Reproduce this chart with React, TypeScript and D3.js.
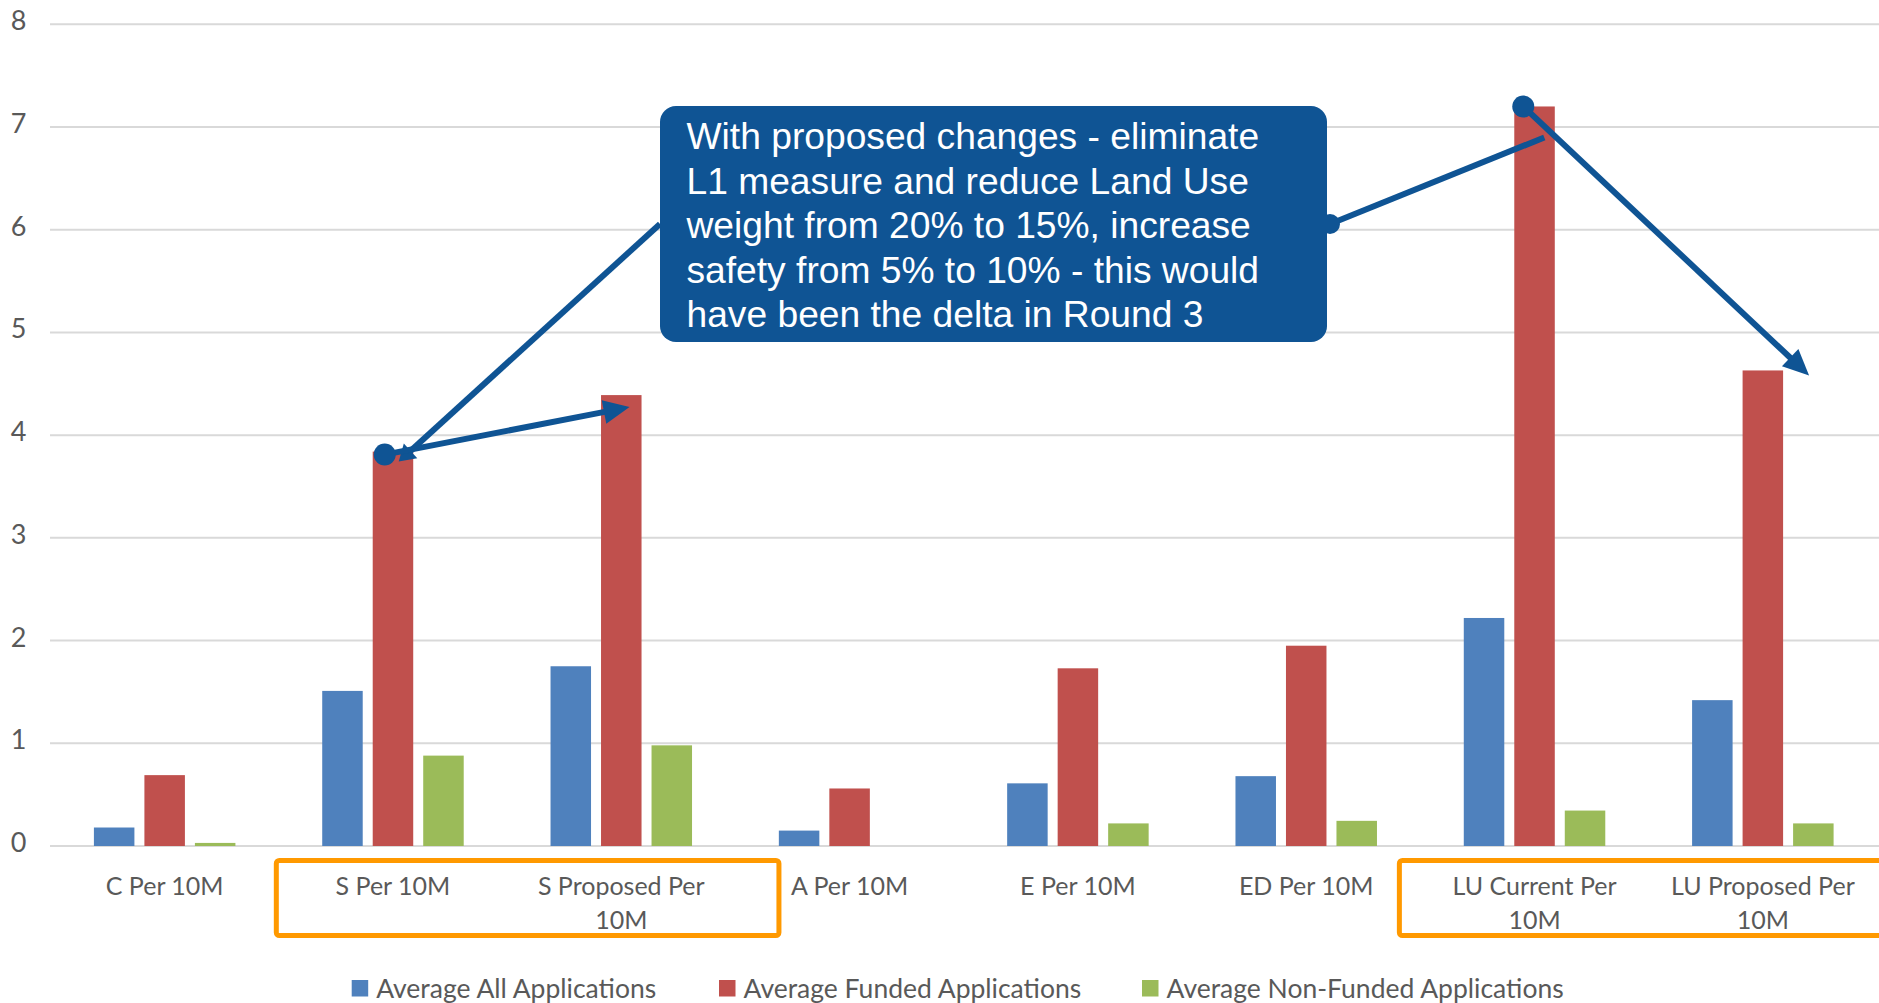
import React from "react";
import * as d3 from "d3";

// Categories along the x axis
const categories = [
  "C Per 10M",
  "S Per 10M",
  "S Proposed Per 10M",
  "A Per 10M",
  "E Per 10M",
  "ED Per 10M",
  "LU Current Per 10M",
  "LU Proposed Per 10M",
];

// Series names (legend order)
const seriesNames = [
  "Average All Applications",
  "Average Funded Applications",
  "Average Non-Funded Applications",
];

// Series values, one per category
const averageAll = [0.18, 1.51, 1.75, 0.15, 0.61, 0.68, 2.22, 1.42];
const averageFunded = [0.69, 3.84, 4.39, 0.56, 1.73, 1.95, 7.2, 4.63];
const averageNonFunded = [0.03, 0.88, 0.98, 0, 0.22, 0.245, 0.345, 0.22];

const yTicks = [0, 1, 2, 3, 4, 5, 6, 7, 8];

const calloutLines = [
  "With proposed changes - eliminate",
  "L1 measure and reduce Land Use",
  "weight from 20% to 15%, increase",
  "safety from 5% to 10% - this would",
  "have been the delta in Round 3",
];

const COLORS = ["#4F81BD", "#C0504D", "#9BBB59"];
const ANNOT = "#0F5494";
const ORANGE = "#FF9900";
const GRID = "#D9D9D9";
const TEXT = "#595959";
const FONT = "Lato, 'Open Sans', sans-serif";

const W = 1879;
const H = 1003;

// split long category names onto two lines, like the chart's wrapped labels
function wrapLabel(name: string): string[] {
  if (name.length <= 12) return [name];
  const i = name.lastIndexOf(" ");
  return [name.slice(0, i), name.slice(i + 1)];
}

// arrow polygon + shortened shaft end
function arrow(x1: number, y1: number, x2: number, y2: number, len: number, half: number) {
  const dx = x2 - x1;
  const dy = y2 - y1;
  const d = Math.hypot(dx, dy);
  const ux = dx / d;
  const uy = dy / d;
  const bx = x2 - ux * len;
  const by = y2 - uy * len;
  const px = -uy;
  const py = ux;
  const pts = [
    [x2, y2],
    [bx + px * half, by + py * half],
    [bx - px * half, by - py * half],
  ]
    .map((p) => p.join(","))
    .join(" ");
  return { pts, sx: bx + ux * 2, sy: by + uy * 2 };
}

export default function App() {
  const series = [averageAll, averageFunded, averageNonFunded];

  const x = d3.scaleBand<string>().domain(categories).range([50.5, 1877]).padding(0);
  const bw = x.bandwidth();
  const xSub = d3
    .scaleBand<number>()
    .domain([0, 1, 2])
    .range([bw / 2 - 70.75, bw / 2 + 70.75])
    .paddingInner(0.198)
    .paddingOuter(0);
  const y = d3.scaleLinear().domain([0, 8]).range([846, 24.3]);

  // bar top-left corners used by the annotation arrows
  const barX = (cat: string, s: number) => (x(cat) as number) + (xSub(s) as number);
  const sCur = { x: barX(categories[1], 1), y: y(averageFunded[1]) };
  const sNew = { x: barX(categories[2], 1), y: y(averageFunded[2]) };
  const luCur = { x: barX(categories[6], 1), y: y(averageFunded[6]) };
  const luNew = { x: barX(categories[7], 1), y: y(averageFunded[7]) };
  const sbw = xSub.bandwidth();

  const box = { x: 660, y: 106, w: 667, h: 236 };

  const dotS = { x: sCur.x + 12, y: sCur.y + 3 };
  const dotLU = { x: luCur.x + 9, y: luCur.y };
  const tipS = { x: sNew.x + sbw - 12, y: sNew.y + 12 };
  const tipLU = { x: luNew.x + sbw + 26, y: luNew.y + 5 };

  const a1 = arrow(dotS.x, dotS.y, tipS.x, tipS.y, 26, 12);
  const a2 = arrow(dotLU.x, dotLU.y, tipLU.x, tipLU.y, 26, 12);
  const connL = { x1: box.x, y1: box.y + 118, x2: dotS.x + 14, y2: dotS.y + 7 };
  const a3 = arrow(connL.x1, connL.y1, connL.x2, connL.y2, 16, 10);
  const connR = { x1: box.x + box.w + 3, y1: box.y + 118, x2: luCur.x + 30, y2: luCur.y + 31 };

  const legendX = [351.7, 719, 1142];

  const orange1 = {
    x0: (x(categories[1]) as number) - 2.5,
    x1: (x(categories[2]) as number) + bw + 43.5,
  };
  const orange2 = {
    x0: (x(categories[6]) as number) - 21,
    x1: W + 20,
  };

  return (
    <svg
      width={W}
      height={H}
      style={{ position: "absolute", left: 0, top: 0, background: "#fff" }}
    >
      {/* gridlines and y tick labels */}
      {yTicks.map((t) => (
        <g key={t}>
          <line x1={50} x2={W} y1={y(t)} y2={y(t)} stroke={GRID} strokeWidth={2} />
          <text
            x={18.5}
            y={y(t) + 6}
            textAnchor="middle"
            fontFamily={FONT}
            fontSize={27}
            fill={TEXT}
          >
            {t}
          </text>
        </g>
      ))}

      {/* bars */}
      {categories.map((cat, i) => (
        <g key={cat} transform={`translate(${x(cat)},0)`}>
          {series.map((vals, s) =>
            vals[i] > 0 ? (
              <rect
                key={s}
                x={xSub(s)}
                y={y(vals[i])}
                width={sbw}
                height={y(0) - y(vals[i])}
                fill={COLORS[s]}
              />
            ) : null
          )}
        </g>
      ))}

      {/* category labels */}
      {categories.map((cat) => {
        const lines = wrapLabel(cat);
        const cx = (x(cat) as number) + bw / 2;
        return (
          <text
            key={cat}
            x={cx}
            textAnchor="middle"
            fontFamily={FONT}
            fontSize={25}
            fill={TEXT}
          >
            {lines.map((l, k) => (
              <tspan key={k} x={cx} y={895 + k * 33.5}>
                {l}
              </tspan>
            ))}
          </text>
        );
      })}

      {/* highlight frames around the changed measures */}
      <rect
        x={orange1.x0}
        y={860.5}
        width={orange1.x1 - orange1.x0}
        height={75}
        rx={3}
        fill="none"
        stroke={ORANGE}
        strokeWidth={5}
      />
      <rect
        x={orange2.x0}
        y={860.5}
        width={orange2.x1 - orange2.x0}
        height={75}
        rx={3}
        fill="none"
        stroke={ORANGE}
        strokeWidth={5}
      />

      {/* legend */}
      {seriesNames.map((name, s) => (
        <g key={name}>
          <rect x={legendX[s]} y={980} width={16.5} height={16.5} fill={COLORS[s]} />
          <text
            x={legendX[s] + 24.5}
            y={997.5}
            fontFamily={FONT}
            fontSize={26.5}
            fill={TEXT}
          >
            {name}
          </text>
        </g>
      ))}

      {/* callout connectors */}
      <line
        x1={connL.x1}
        y1={connL.y1}
        x2={a3.sx}
        y2={a3.sy}
        stroke={ANNOT}
        strokeWidth={6}
      />
      <polygon points={a3.pts} fill={ANNOT} />
      <line
        x1={connR.x1}
        y1={connR.y1}
        x2={connR.x2}
        y2={connR.y2}
        stroke={ANNOT}
        strokeWidth={6}
      />
      <circle cx={connR.x1} cy={connR.y1} r={10} fill={ANNOT} />

      {/* change arrows from current to proposed */}
      <line x1={dotS.x} y1={dotS.y} x2={a1.sx} y2={a1.sy} stroke={ANNOT} strokeWidth={6} />
      <polygon points={a1.pts} fill={ANNOT} />
      <circle cx={dotS.x} cy={dotS.y} r={11} fill={ANNOT} />

      <line x1={dotLU.x} y1={dotLU.y} x2={a2.sx} y2={a2.sy} stroke={ANNOT} strokeWidth={6} />
      <polygon points={a2.pts} fill={ANNOT} />
      <circle cx={dotLU.x} cy={dotLU.y} r={11} fill={ANNOT} />

      {/* callout box */}
      <rect x={box.x} y={box.y} width={box.w} height={box.h} rx={16} fill={ANNOT} />
      <text
        fontFamily="'Liberation Sans', Arial, sans-serif"
        fontSize={37.2}
        fill="#ffffff"
      >
        {calloutLines.map((l, k) => (
          <tspan key={k} x={686.5} y={149 + k * 44.6}>
            {l}
          </tspan>
        ))}
      </text>
    </svg>
  );
}
